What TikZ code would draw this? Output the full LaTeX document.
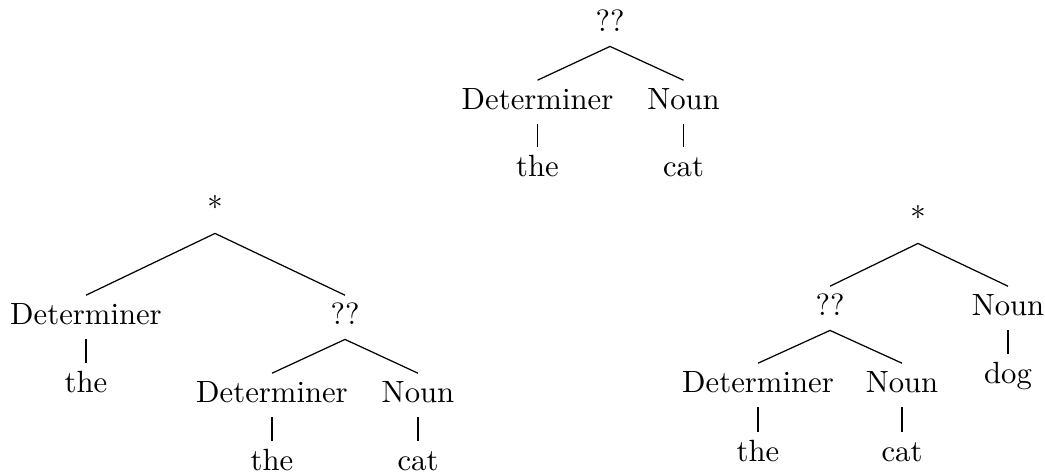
\documentclass[tikz,border=0pt]{standalone}
\begin{document}
\begin{tikzpicture}[x=0.3257pt,y=-0.3257pt,
  lbl/.style={anchor=base,inner xsep=0pt,inner ysep=2.5pt,text height=7pt,text depth=2pt,font=\fontsize{10}{12}\selectfont},
  edge/.style={line width=0.4pt}]
\useasboundingbox (0,0) rectangle (1045,474);
% top tree
\node[lbl] (t0) at (610,32) {??};
\node[lbl] (t1) at (537.5,110) {Determiner};
\node[lbl] (t2) at (683.5,110) {Noun};
\node[lbl] (t3) at (537.5,177) {the};
\node[lbl] (t4) at (683.5,177) {cat};
\draw[edge] (t0.south) -- (t1.north);
\draw[edge] (t0.south) -- (t2.north);
\draw[edge] (t1.south) -- (t3.north);
\draw[edge] (t2.south) -- (t4.north);
% left tree
\node[lbl] (l0) at (215,219) {*};
\node[lbl] (l1) at (86,325) {Determiner};
\node[lbl] (l2) at (345,325) {??};
\node[lbl] (l3) at (86,393) {the};
\node[lbl] (l4) at (272,403) {Determiner};
\node[lbl] (l5) at (418,403) {Noun};
\node[lbl] (l6) at (272,471) {the};
\node[lbl] (l7) at (418,471) {cat};
\draw[edge] (l0.south) -- (l1.north);
\draw[edge] (l0.south) -- (l2.north);
\draw[edge] (l1.south) -- (l3.north);
\draw[edge] (l2.south) -- (l4.north);
\draw[edge] (l2.south) -- (l5.north);
\draw[edge] (l4.south) -- (l6.north);
\draw[edge] (l5.south) -- (l7.north);
% right tree
\node[lbl] (r0) at (918,229) {*};
\node[lbl] (r1) at (830,316) {??};
\node[lbl] (r2) at (1008,316) {Noun};
\node[lbl] (r3) at (1008,384) {dog};
\node[lbl] (r4) at (758,393) {Determiner};
\node[lbl] (r5) at (902,393) {Noun};
\node[lbl] (r6) at (758,462) {the};
\node[lbl] (r7) at (902,462) {cat};
\draw[edge] (r0.south) -- (r1.north);
\draw[edge] (r0.south) -- (r2.north);
\draw[edge] (r2.south) -- (r3.north);
\draw[edge] (r1.south) -- (r4.north);
\draw[edge] (r1.south) -- (r5.north);
\draw[edge] (r4.south) -- (r6.north);
\draw[edge] (r5.south) -- (r7.north);
\end{tikzpicture}
\end{document}
